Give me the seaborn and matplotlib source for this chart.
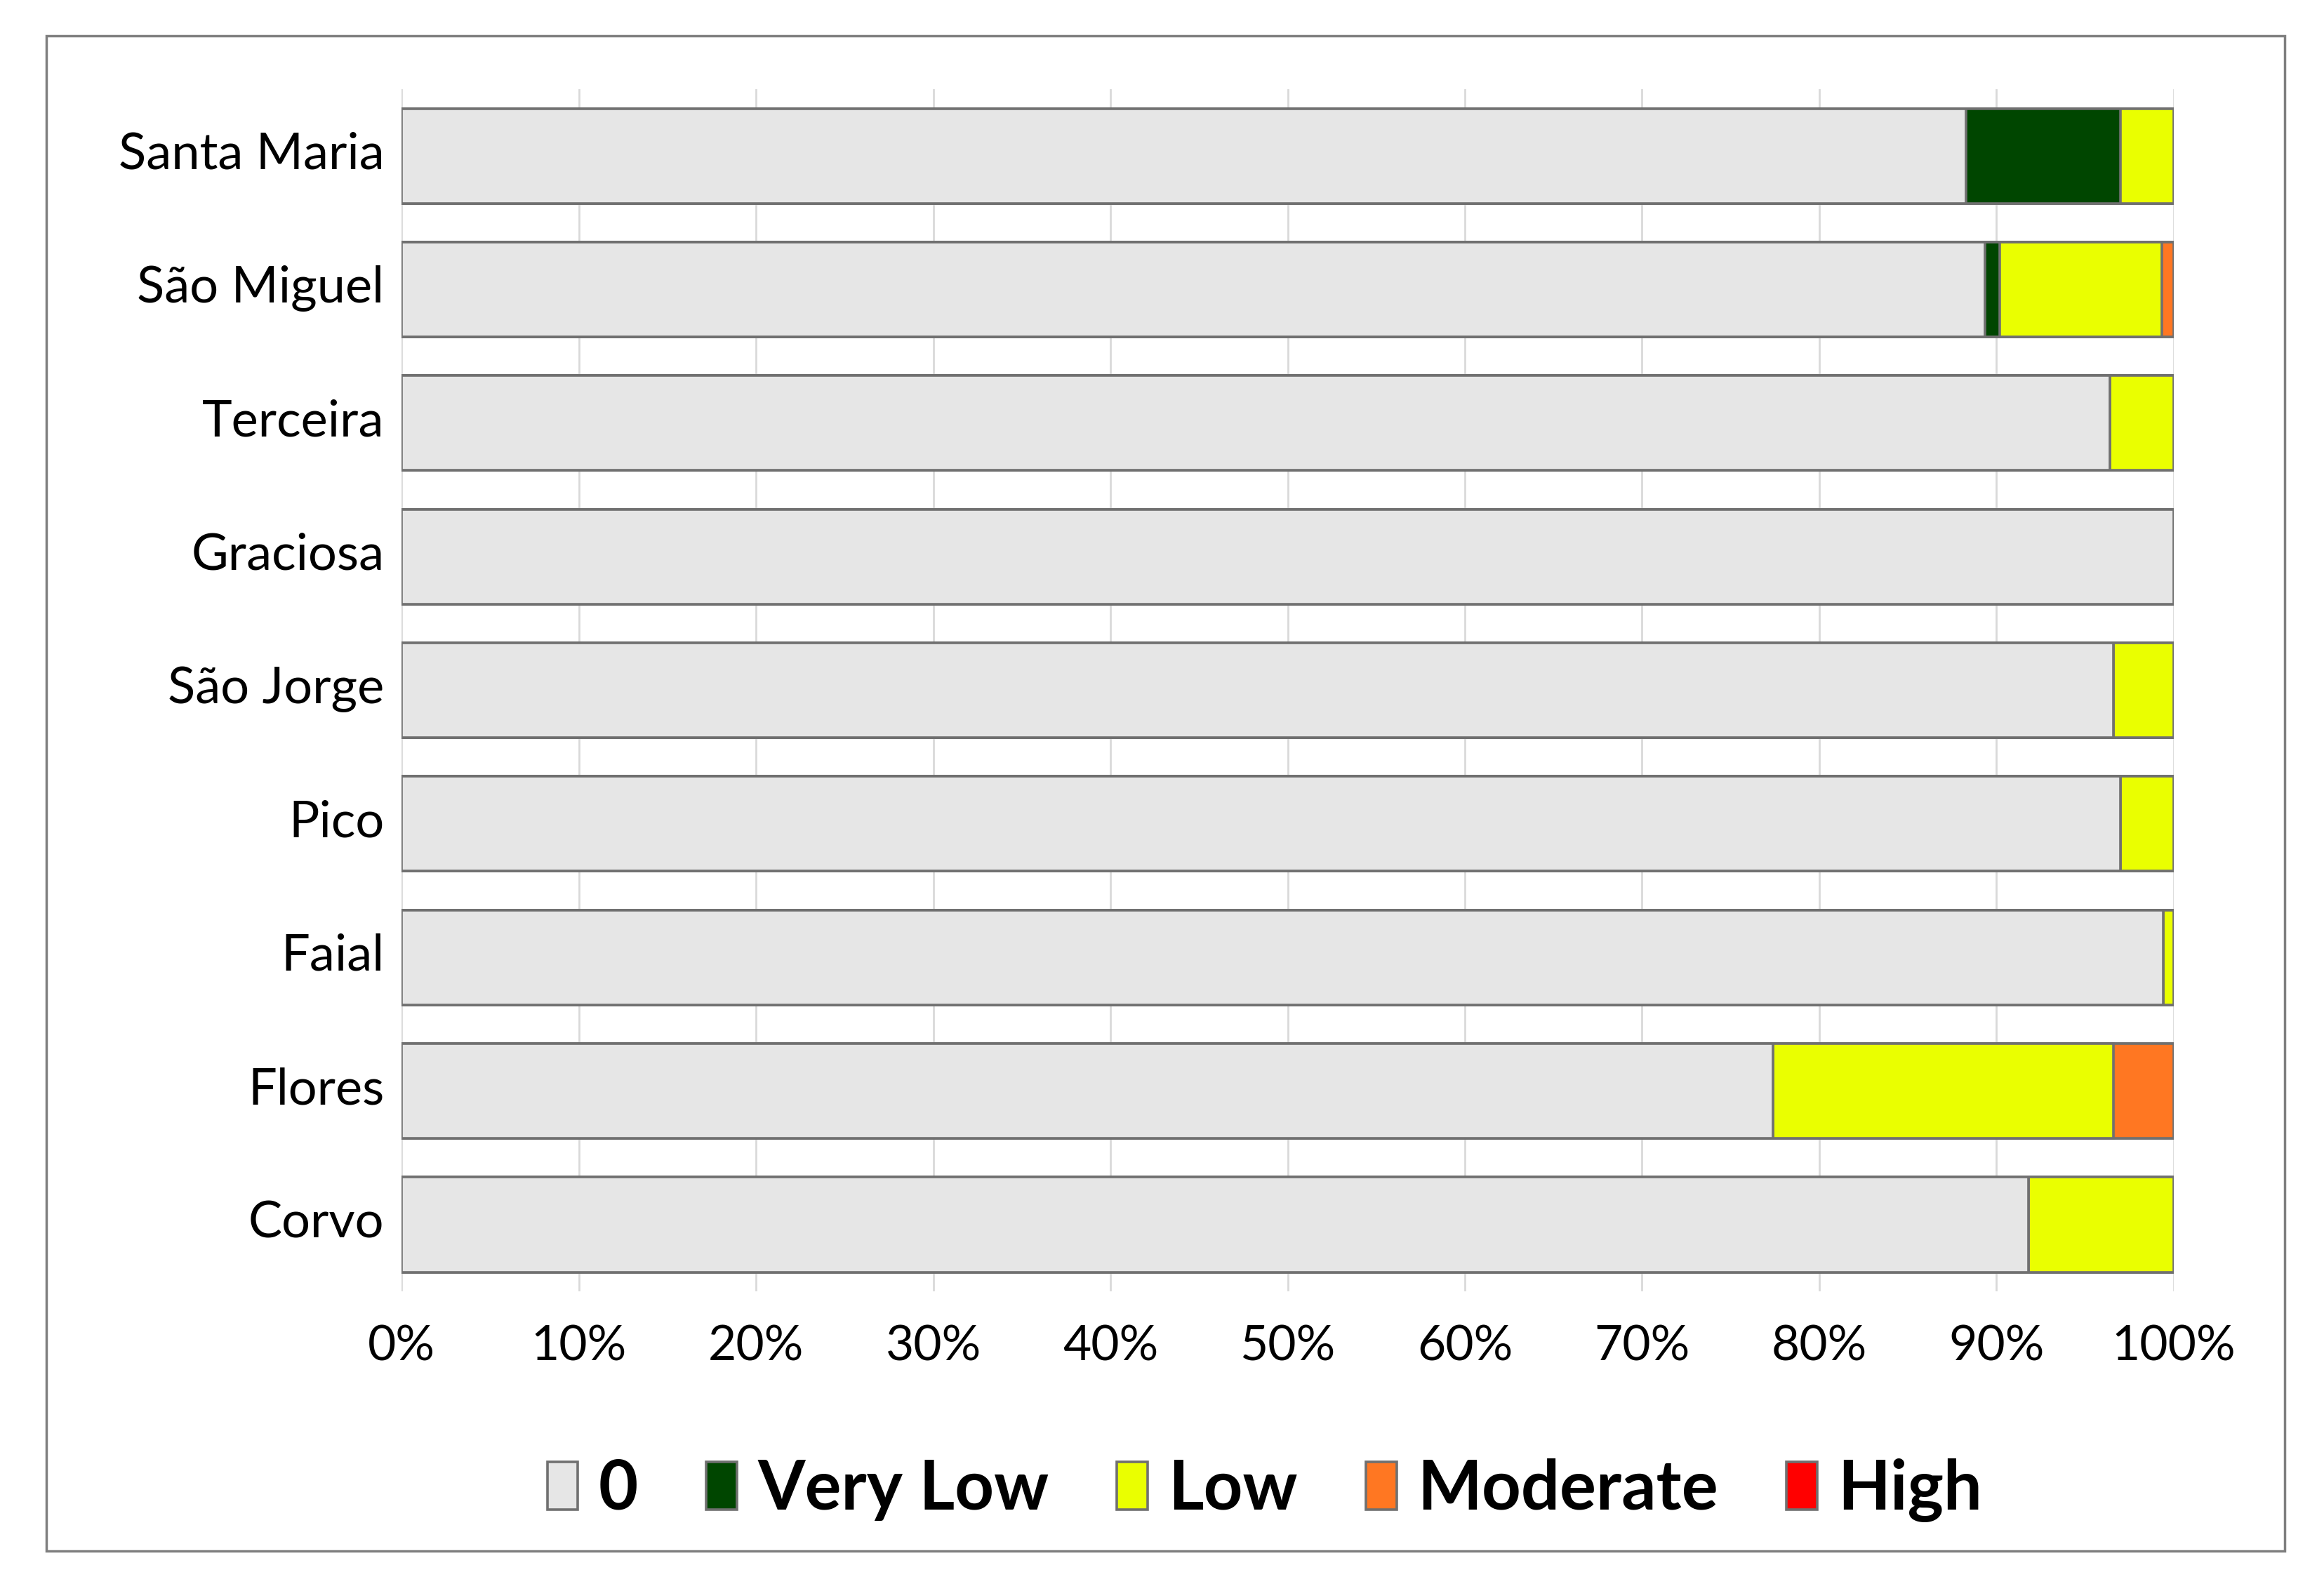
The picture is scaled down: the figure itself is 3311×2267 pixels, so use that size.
import numpy as np
import pandas as pd
import matplotlib.pyplot as plt
import matplotlib.transforms as mtransforms
import seaborn as sns
from matplotlib.patches import Patch, Rectangle

sns.set_theme(style="white")
plt.rcParams["font.family"] = ["Lato", "DejaVu Sans"]
plt.rcParams["text.color"] = "black"

# share of each class per island (%)
islands = ["Santa Maria", "São Miguel", "Terceira", "Graciosa", "São Jorge",
           "Pico", "Faial", "Flores", "Corvo"]
zero     = [88.3, 89.35, 96.4, 100.0, 96.6, 97.0, 99.4, 77.4, 91.8]
very_low = [8.7, 0.85, 0.0, 0.0, 0.0, 0.0, 0.0, 0.0, 0.0]
low      = [3.0, 9.15, 3.6, 0.0, 3.4, 3.0, 0.6, 19.2, 8.2]
moderate = [0.0, 0.65, 0.0, 0.0, 0.0, 0.0, 0.0, 3.4, 0.0]
high     = [0.0, 0.0, 0.0, 0.0, 0.0, 0.0, 0.0, 0.0, 0.0]

classes = ["0", "Very Low", "Low", "Moderate", "High"]
colors = ["#E6E6E6", "#004600", "#EAFF00", "#FF7722", "#FF0000"]

df = pd.DataFrame({"island": islands, "0": zero, "Very Low": very_low,
                   "Low": low, "Moderate": moderate, "High": high})
cum = df[classes].cumsum(axis=1)
cum["island"] = df["island"]

fig = plt.figure(figsize=(33.12, 22.67), dpi=100)
ax = fig.add_axes([0.1728, 0.1883, 0.935 - 0.1728, 0.944 - 0.1883])

# stacked bars: draw cumulative totals from the last class down
for cls, col in reversed(list(zip(classes, colors))):
    sns.barplot(data=cum, y="island", x=cls, orient="h", color=col,
                width=0.71, edgecolor="#707070", linewidth=2.6,
                saturation=1, ax=ax, zorder=3)

ax.set_xlim(0, 100)
ax.set_ylim(8.5, -0.5)
ax.set_xticks(np.arange(0, 101, 10))
ax.set_xticklabels([f"{v}%" for v in range(0, 101, 10)])
ax.set_xlabel("")
ax.set_ylabel("")
ax.grid(axis="x", color="#D9D9D9", linewidth=2, zorder=0)
ax.grid(axis="y", visible=False)
for s in ax.spines.values():
    s.set_visible(False)
ax.tick_params(axis="x", length=0, pad=34, labelsize=50, labelcolor="black")
ax.tick_params(axis="y", length=0, pad=18, labelsize=52, labelcolor="black")

# island names sit slightly above bar centres in the original
shift = mtransforms.ScaledTranslation(0, 8 / 100, fig.dpi_scale_trans)
for lab in ax.get_yticklabels():
    lab.set_transform(lab.get_transform() + shift)

handles = [Patch(facecolor=c, edgecolor="#707070", linewidth=2.6) for c in colors]
fig.legend(handles, classes, loc="center", bbox_to_anchor=(0.544, 0.0634),
           ncol=5, frameon=False, prop={"weight": "bold", "size": 70},
           handlelength=0.45, handleheight=0.7, handletextpad=0.3,
           columnspacing=1.0, labelcolor="black")

fig.patches.append(Rectangle((0.0198, 0.0252), 0.9828 - 0.0198, 0.9776 - 0.0252,
                             transform=fig.transFigure, fill=False,
                             edgecolor="#7F7F7F", linewidth=2.5))

fig.savefig("out.png", dpi=100, facecolor="white")
